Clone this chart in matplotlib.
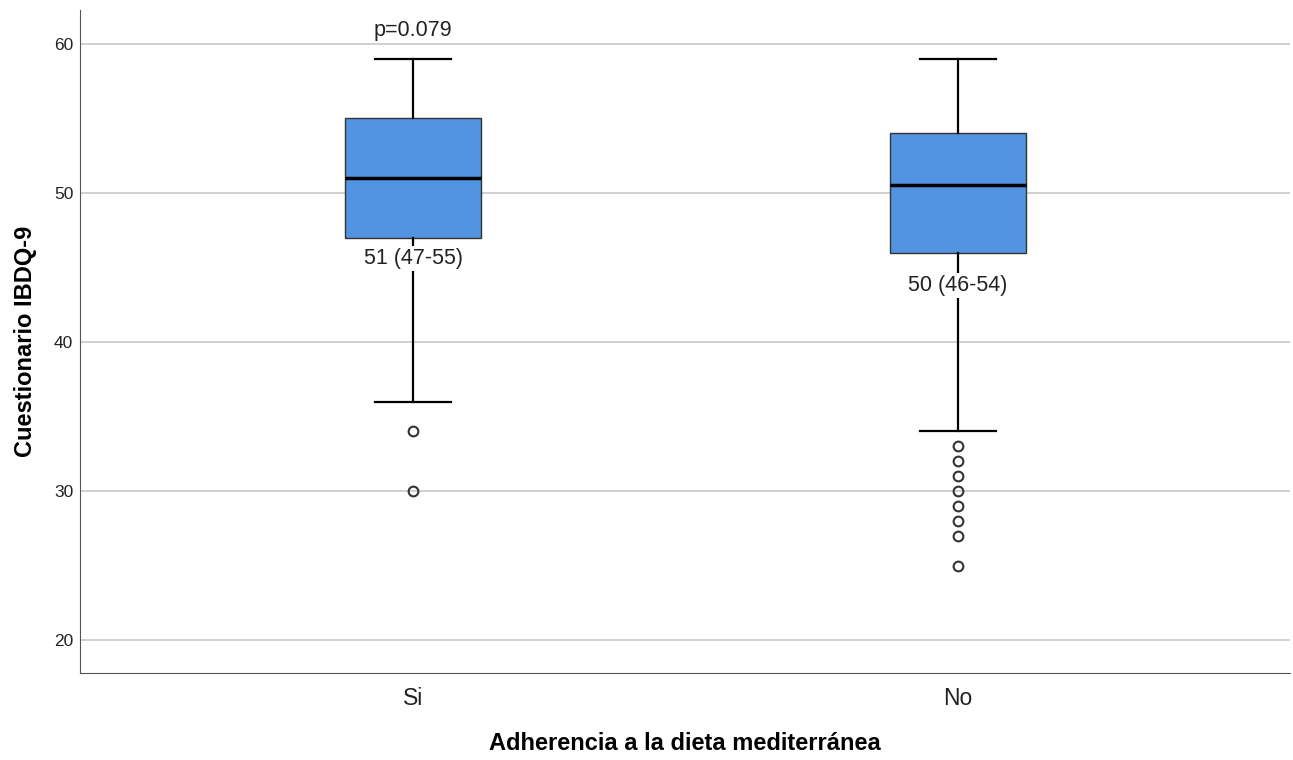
import matplotlib.pyplot as plt

plt.rcParams['font.family'] = ['Liberation Sans', 'DejaVu Sans']

# ----------
# Data

groups = ["Si", "No"]
whislo = [36, 34]
q1 = [47, 46]
med = [51, 50.5]
q3 = [55, 54]
whishi = [59, 59]
fliers = [[34, 30], [33, 32, 31, 30, 29, 28, 27, 25]]
box_labels = ["51 (47-55)", "50 (46-54)"]
label_y = [45.6, 43.8]
p_text = "p=0.079"

# ----------
# Figure

fig = plt.figure(figsize=(12.93, 7.6), dpi=100)
ax = fig.add_axes([0.062, 0.1145, 0.9357, 0.8725])

stats = []
for i in range(len(groups)):
    stats.append(dict(label=groups[i], whislo=whislo[i], q1=q1[i], med=med[i],
                      q3=q3[i], whishi=whishi[i], fliers=fliers[i]))

ax.bxp(stats, positions=[0, 1], widths=0.25, patch_artist=True,
       boxprops=dict(facecolor="#5294e2", edgecolor="#333333", linewidth=1),
       medianprops=dict(color="black", linewidth=2.5),
       whiskerprops=dict(color="black", linewidth=1.6),
       capprops=dict(color="black", linewidth=1.6),
       capwidths=0.14,
       flierprops=dict(marker="o", markersize=7, markerfacecolor="none",
                       markeredgecolor="#333333", markeredgewidth=1.5))

for i in range(len(groups)):
    ax.text(i, label_y[i], box_labels[i], ha="center", va="center", fontsize=15.5,
            color="#222222", zorder=5,
            bbox=dict(facecolor="white", edgecolor="none", pad=1.5))

ax.text(0, 60.9, p_text, ha="center", va="center", fontsize=15.5, color="#222222",
        zorder=5, bbox=dict(facecolor="white", edgecolor="none", pad=1.5))

ax.set_xlim(-0.611, 1.609)
ax.set_ylim(17.79, 62.28)
ax.set_yticks([20, 30, 40, 50, 60])
ax.yaxis.grid(True, color="#c8c8c8", linewidth=1.2)
ax.set_axisbelow(True)

for s in ["top", "right"]:
    ax.spines[s].set_visible(False)
ax.spines["left"].set_color("#555555")
ax.spines["bottom"].set_color("#555555")

ax.tick_params(axis="y", length=0, labelsize=12.5, pad=5, labelcolor="#222222")
ax.tick_params(axis="x", length=0, labelsize=16.5, pad=10, labelcolor="#222222")

ax.set_xlabel("Adherencia a la dieta mediterránea", fontsize=17, fontweight="bold", labelpad=16)
ax.set_ylabel("Cuestionario IBDQ-9", fontsize=17, fontweight="bold", labelpad=12)

fig.savefig("out.png", dpi=100)
